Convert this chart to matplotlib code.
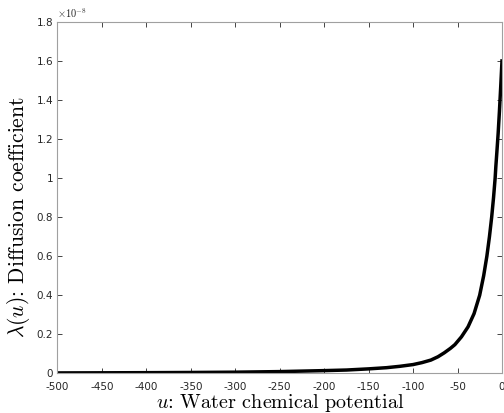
import matplotlib
matplotlib.use('Agg')
import matplotlib.pyplot as plt
import numpy as np

# water chemical potential u and diffusion coefficient lambda(u) (x 1e-8)
u = [-500, -450, -400, -350, -300, -250, -200, -175, -150, -130, -115, -100,
     -90, -80, -72, -65, -58, -53, -45.6, -38.2, -31.4, -25.1, -20.6, -17,
     -14.1, -11.6, -9.5, -7.7, -6.9, -5.8, -4.3, -2.9, -1.4, 0]
lam = [0.0022, 0.0028, 0.0035, 0.0045, 0.006, 0.009, 0.014, 0.017, 0.023, 0.029,
       0.036, 0.045, 0.055, 0.068, 0.085, 0.105, 0.128, 0.147, 0.187, 0.238,
       0.306, 0.4, 0.5, 0.6, 0.7, 0.8, 0.9, 1.0, 1.06, 1.13, 1.23, 1.34, 1.47, 1.6]

xticks = [-500, -450, -400, -350, -300, -250, -200, -150, -100, -50, 0]
yticks = [0, 0.2, 0.4, 0.6, 0.8, 1, 1.2, 1.4, 1.6, 1.8]
ylabels = ['0', '0.2', '0.4', '0.6', '0.8', '1', '1.2', '1.4', '1.6', '1.8']

plt.rcParams['mathtext.fontset'] = 'cm'

fig = plt.figure(figsize=(5.04, 4.13), dpi=100)
ax = fig.add_axes([0.114, 0.096, 0.882, 0.851])

ax.plot(u, np.array(lam) * 1e-8, color='black', lw=2.5, solid_joinstyle='round')

ax.set_xlim(-500, 0)
ax.set_ylim(0, 1.8e-8)
ax.set_xticks(xticks)
ax.set_xticklabels([str(t) for t in xticks])
ax.set_yticks(np.array(yticks) * 1e-8)
ax.set_yticklabels(ylabels)

gray = '#262626'
ax.tick_params(direction='in', top=True, right=True, length=3.5, width=0.6,
               labelsize=7.5, colors=gray)
ax.tick_params(axis='x', pad=6)
ax.tick_params(axis='y', pad=3)
for s in ax.spines.values():
    s.set_color('#a0a0a0')
    s.set_linewidth(0.8)

ax.text(0.0, 1.004, r'$\times\mathsf{10^{-8}}$', transform=ax.transAxes,
        fontsize=7.5, color=gray, ha='left', va='bottom')

ax.set_xlabel(r'$u$: Water chemical potential', family='cmr10', fontsize=14.5,
              labelpad=0)
ax.set_ylabel(r'$\lambda(u)$: Diffusion coefficient', family='cmr10',
              fontsize=15.5, labelpad=3)
ax.yaxis.set_label_coords(-0.058, 0.445)

fig.savefig('out.png', dpi=100)
